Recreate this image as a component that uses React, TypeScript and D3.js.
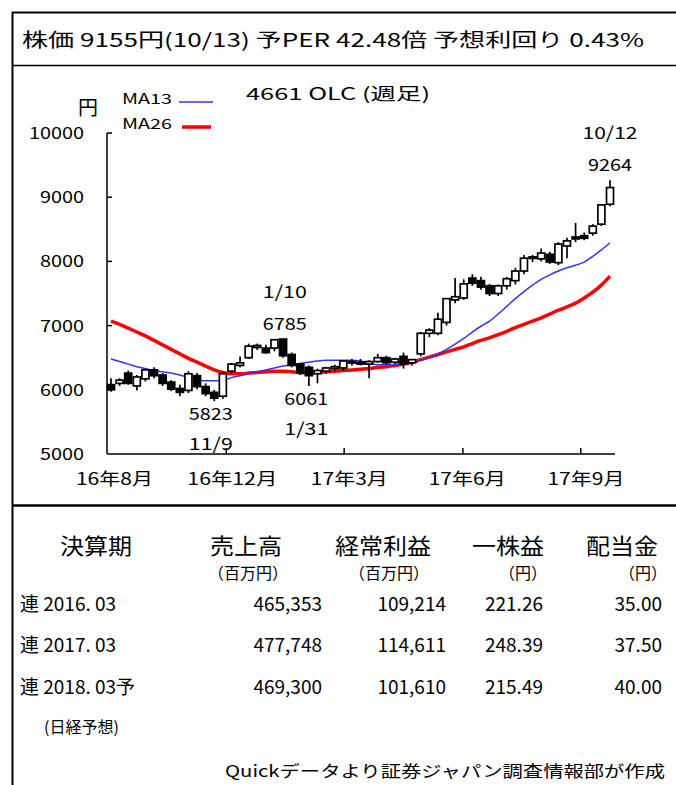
import React from "react";
import * as d3 from "d3";

// ---- Data (weekly candles, Aug 2016 – Oct 2017) ----
const opens = [6080, 6100, 6260, 6060, 6170, 6310, 6230, 6120, 6020, 5990, 6220, 6050, 5960, 5900, 6290, 6380, 6500, 6660, 6650, 6650, 6790, 6550, 6400, 6350, 6250, 6290, 6330, 6340, 6420, 6430, 6400, 6440, 6500, 6430, 6520, 6420, 6560, 6880, 6880, 7050, 7400, 7430, 7740, 7700, 7620, 7500, 7620, 7700, 7850, 8050, 8040, 8110, 7980, 8240, 8380, 8400, 8440, 8580, 8890];
const highs = [6180, 6180, 6300, 6230, 6330, 6350, 6260, 6150, 6080, 6290, 6260, 6100, 6000, 6280, 6420, 6520, 6720, 6720, 6700, 6785, 6790, 6580, 6420, 6380, 6330, 6360, 6390, 6460, 6480, 6480, 6460, 6560, 6530, 6500, 6580, 6480, 6900, 6960, 7200, 7430, 7740, 7720, 7800, 7760, 7650, 7640, 7760, 7900, 8100, 8100, 8200, 8150, 8300, 8370, 8600, 8450, 8580, 8890, 9264];
const lows = [5970, 6060, 6080, 5990, 6130, 6180, 6060, 5980, 5900, 5950, 6010, 5900, 5823, 5860, 6250, 6350, 6480, 6620, 6560, 6600, 6500, 6350, 6230, 6061, 6100, 6250, 6290, 6300, 6380, 6380, 6180, 6420, 6400, 6400, 6330, 6380, 6520, 6820, 6850, 7000, 7350, 7400, 7620, 7560, 7460, 7460, 7560, 7640, 7800, 7990, 8000, 7960, 7940, 8050, 8300, 8330, 8400, 8550, 8860];
const closes = [6000, 6150, 6100, 6200, 6310, 6220, 6100, 6010, 5960, 6250, 6050, 5940, 5870, 6250, 6400, 6420, 6680, 6690, 6580, 6780, 6530, 6380, 6260, 6220, 6300, 6340, 6360, 6450, 6440, 6400, 6440, 6500, 6420, 6480, 6400, 6470, 6880, 6930, 7100, 7420, 7450, 7650, 7660, 7600, 7500, 7620, 7730, 7850, 8050, 8070, 8130, 7990, 8270, 8320, 8350, 8360, 8550, 8880, 9150];
const ma13 = [6480, 6440, 6400, 6360, 6330, 6300, 6280, 6260, 6230, 6190, 6160, 6140, 6140, 6150, 6190, 6220, 6250, 6280, 6310, 6340, 6370, 6390, 6410, 6430, 6450, 6460, 6460, 6460, 6460, 6450, 6420, 6390, 6390, 6390, 6400, 6420, 6460, 6500, 6560, 6630, 6710, 6800, 6900, 6990, 7070, 7180, 7300, 7420, 7530, 7630, 7720, 7790, 7850, 7900, 7940, 7990, 8080, 8180, 8290];
const ma26 = [7070, 7020, 6960, 6900, 6840, 6770, 6700, 6630, 6560, 6490, 6430, 6370, 6310, 6270, 6250, 6250, 6260, 6270, 6280, 6290, 6290, 6280, 6270, 6260, 6270, 6280, 6290, 6300, 6310, 6320, 6330, 6350, 6360, 6380, 6400, 6430, 6470, 6510, 6550, 6590, 6630, 6670, 6720, 6770, 6810, 6860, 6910, 6970, 7020, 7070, 7120, 7180, 7240, 7290, 7350, 7430, 7520, 7630, 7770];

const yTicks = [5000, 6000, 7000, 8000, 9000, 10000];
const xTickIdx = [13.4, 27.1, 40.9, 54.6];
const xLabels = ["16年8月", "16年12月", "17年3月", "17年6月", "17年9月"];
const xLabelIdx = [0.4, 14.1, 27.7, 41.4, 55.2];

const annDates = ["10/12", "1/10", "11/9", "1/31"];
const annValues = ["9264", "6785", "5823", "6061"];
const annIdx = [58, 20.2, 11.6, 22.7];
const annAbove = [true, true, false, false];

const headerText = "株価 9155円(10/13) 予PER 42.48倍  予想利回り 0.43%";
const chartTitle = "4661 OLC (週足)";
const legendNames = ["MA13", "MA26"];

const tableHeads = ["決算期", "売上高", "経常利益", "一株益", "配当金"];
const tableUnits = ["", "（百万円）", "（百万円）", "（円）", "（円）"];
const rowPeriods = ["連 2016. 03", "連 2017. 03", "連 2018. 03予"];
const sales = ["465,353", "477,748", "469,300"];
const ordinary = ["109,214", "114,611", "101,610"];
const eps = ["221.26", "248.39", "215.49"];
const dividends = ["35.00", "37.50", "40.00"];
const forecastNote = "(日経予想)";
const footer = "Quickデータより証券ジャパン調査情報部が作成";

const FONT = "'Noto Sans CJK JP', 'Noto Sans', sans-serif";

export default function App() {
  const N = closes.length;
  const x = d3.scaleLinear().domain([0, N - 1]).range([111, 610]);
  const y = d3.scaleLinear().domain([5000, 10000]).range([454, 133]);
  const bw = 7;
  const line = (arr: number[]) =>
    d3.line<number>().x((_, i) => x(i)).y((d) => y(d)).curve(d3.curveMonotoneX)(arr) || "";

  const axisX0 = 107;
  const axisX1 = 615;
  const axisY = y(5000);

  const colRight = [0, 322, 446, 543, 662];
  const headCenter = [96, 246, 383, 508, 622];
  const unitRight = [0, 288, 429, 547, 667];
  const rowY = [611, 652, 694];

  return (
    <svg
      width={676}
      height={785}
      style={{ position: "absolute", left: 0, top: 0, background: "#fff" }}
      fontFamily={FONT}
    >
      <rect x={0} y={0} width={676} height={785} fill="#fff" />
      {/* frame */}
      <line x1={12} y1={12.5} x2={676} y2={12.5} stroke="#000" strokeWidth={2} />
      <line x1={12.5} y1={12} x2={12.5} y2={785} stroke="#000" strokeWidth={2} />
      <line x1={12} y1={65.5} x2={676} y2={65.5} stroke="#000" strokeWidth={1.5} />
      <line x1={12} y1={505.5} x2={676} y2={505.5} stroke="#000" strokeWidth={2.5} />

      {/* header */}
      <text x={22} y={47} fontSize={19} textLength={622} lengthAdjust="spacingAndGlyphs">
        {headerText}
      </text>

      {/* title & legend */}
      <text x={246} y={100} fontSize={17} textLength={184} lengthAdjust="spacingAndGlyphs">
        {chartTitle}
      </text>
      <text x={78} y={115} fontSize={20}>円</text>
      {legendNames.map((n, i) => (
        <g key={n}>
          <text x={122} y={104 + i * 25} fontSize={14} textLength={50} lengthAdjust="spacingAndGlyphs">
            {n}
          </text>
          <line
            x1={i === 0 ? 179 : 182}
            x2={i === 0 ? 213 : 211}
            y1={102 + i * 25}
            y2={102 + i * 25}
            stroke={i === 0 ? "#3333ff" : "#ff0000"}
            strokeWidth={i === 0 ? 1.5 : 3.5}
          />
        </g>
      ))}

      {/* y axis */}
      <line x1={axisX0} y1={y(10000)} x2={axisX0} y2={axisY} stroke="#000" strokeWidth={1.5} />
      {yTicks.map((t) => (
        <g key={t}>
          {t !== 5000 && (
            <line x1={axisX0} x2={axisX0 + 5} y1={y(t)} y2={y(t)} stroke="#000" strokeWidth={1.5} />
          )}
          <text
            x={84}
            y={y(t) + 6}
            fontSize={16}
            textAnchor="end"
            textLength={t >= 10000 ? 55 : 44}
            lengthAdjust="spacingAndGlyphs"
          >
            {t}
          </text>
        </g>
      ))}

      {/* x axis */}
      <line x1={axisX0} y1={axisY} x2={axisX1} y2={axisY} stroke="#000" strokeWidth={1.5} />
      {xTickIdx.map((t, i) => (
        <line key={i} x1={x(t)} x2={x(t)} y1={axisY} y2={axisY - 6} stroke="#000" strokeWidth={1.5} />
      ))}
      {xLabels.map((l, i) => (
        <text
          key={l}
          x={x(xLabelIdx[i])}
          y={485}
          fontSize={17}
          textAnchor="middle"
          textLength={l.length > 5 ? 90 : 77}
          lengthAdjust="spacingAndGlyphs"
        >
          {l}
        </text>
      ))}

      {/* moving averages */}
      <path d={line(ma26)} fill="none" stroke="#ff0000" strokeWidth={3.5} />
      <path d={line(ma13)} fill="none" stroke="#3333ff" strokeWidth={1.5} />

      {/* candles */}
      {closes.map((c, i) => {
        const o = opens[i];
        const up = c >= o;
        const top = y(Math.max(o, c));
        const bot = y(Math.min(o, c));
        const cx = x(i);
        return (
          <g key={i}>
            <line x1={cx} x2={cx} y1={y(highs[i])} y2={y(lows[i])} stroke="#000" strokeWidth={1.7} />
            <rect
              x={cx - bw / 2}
              y={top}
              width={bw}
              height={Math.max(bot - top, 1.5)}
              fill={up ? "#fff" : "#000"}
              stroke="#000"
              strokeWidth={1.7}
            />
          </g>
        );
      })}

      {/* annotations */}
      {annDates.map((d, i) => {
        const idx = Math.round(annIdx[i]);
        const cx = x(annIdx[i]);
        const base = annAbove[i] ? y(highs[idx]) - 9 : y(lows[idx]) + 19;
        const vY = base;
        const dY = annAbove[i] ? base - 32 : base + 30;
        return (
          <g key={d} fontSize={17} textAnchor="middle">
            <text x={cx} y={vY} textLength={44} lengthAdjust="spacingAndGlyphs">
              {annValues[i]}
            </text>
            <text x={cx} y={dY} textLength={d.length * 11} lengthAdjust="spacingAndGlyphs">
              {d}
            </text>
          </g>
        );
      })}

      {/* table */}
      {tableHeads.map((h, i) => (
        <text
          key={h}
          x={headCenter[i]}
          y={554}
          fontSize={22}
          textAnchor="middle"
          textLength={h.length * 24}
          lengthAdjust="spacingAndGlyphs"
        >
          {h}
        </text>
      ))}
      {tableUnits.map((u, i) =>
        u ? (
          <text key={i} x={unitRight[i]} y={579} fontSize={16} textAnchor="end">
            {u}
          </text>
        ) : null
      )}
      {rowPeriods.map((p, r) => (
        <g key={p} fontSize={19}>
          <text x={20} y={rowY[r]}>{p}</text>
          <text x={colRight[1]} y={rowY[r]} textAnchor="end">{sales[r]}</text>
          <text x={colRight[2]} y={rowY[r]} textAnchor="end">{ordinary[r]}</text>
          <text x={colRight[3]} y={rowY[r]} textAnchor="end">{eps[r]}</text>
          <text x={colRight[4]} y={rowY[r]} textAnchor="end">{dividends[r]}</text>
        </g>
      ))}
      <text x={44} y={733} fontSize={16}>{forecastNote}</text>
      <text x={665} y={777} fontSize={16} textAnchor="end" textLength={440} lengthAdjust="spacingAndGlyphs">
        {footer}
      </text>
    </svg>
  );
}
